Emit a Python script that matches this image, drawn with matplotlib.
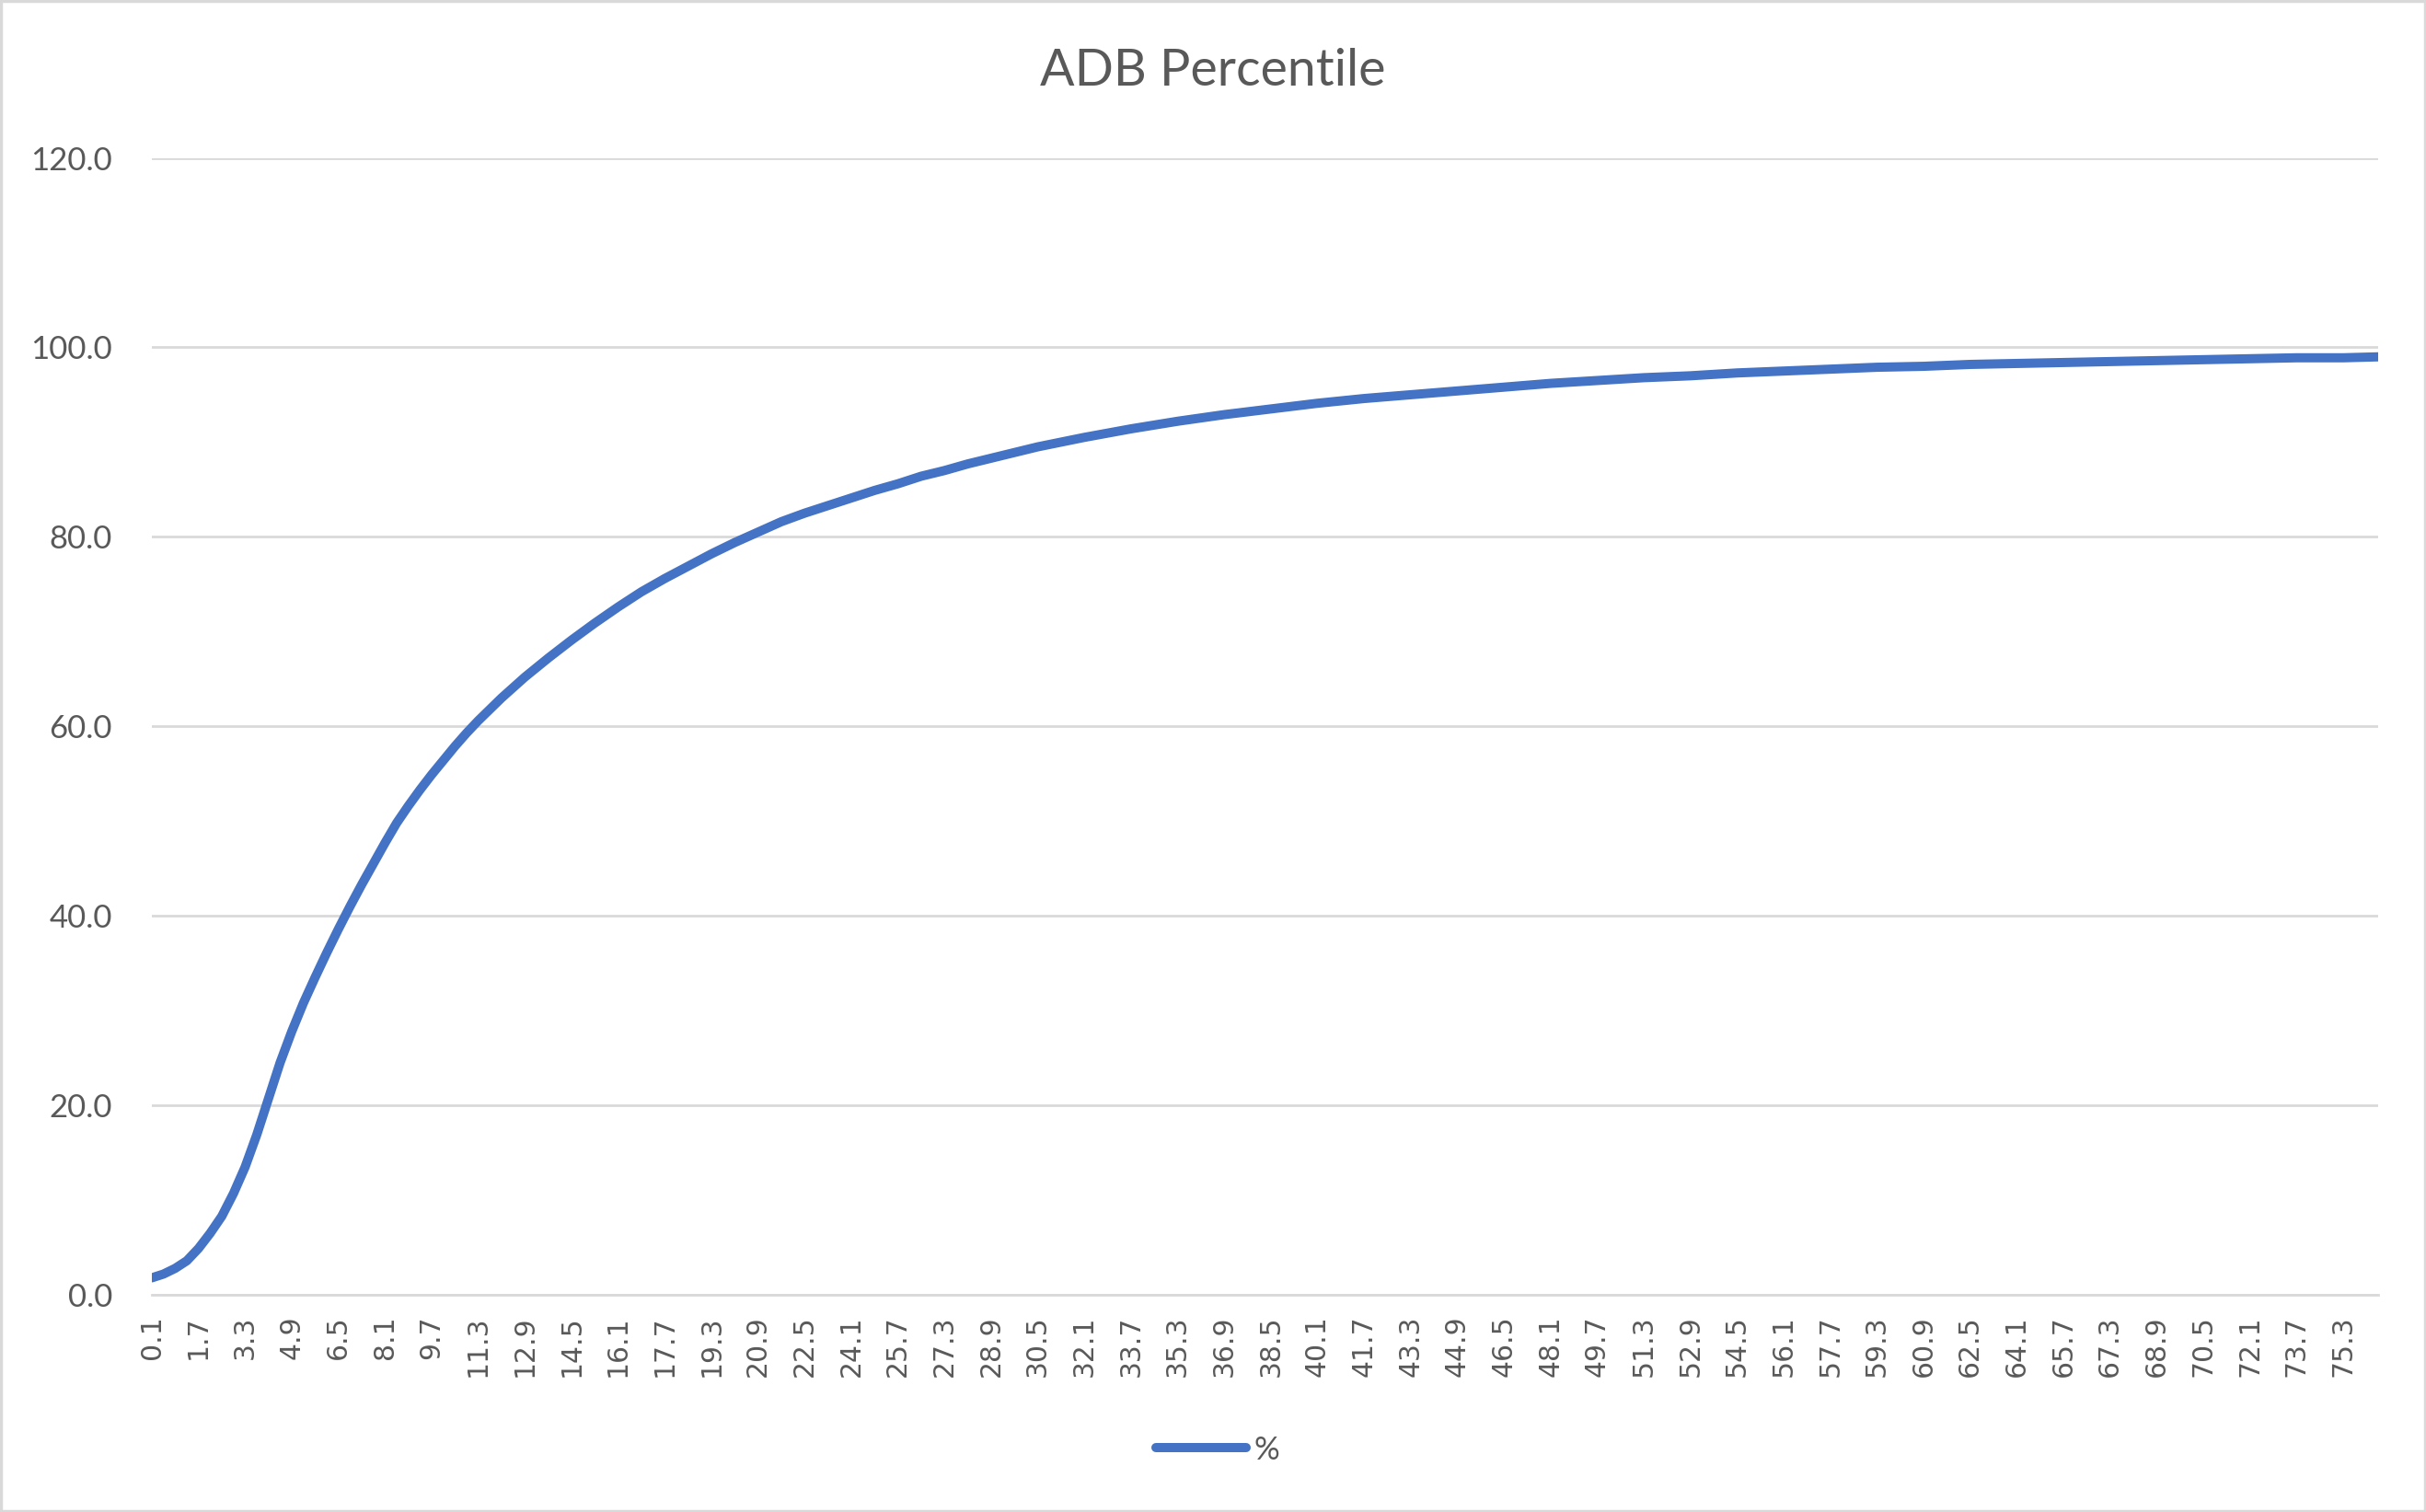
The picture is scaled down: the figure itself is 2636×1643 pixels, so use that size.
import matplotlib
matplotlib.use("Agg")
import matplotlib.pyplot as plt
import matplotlib.patches as patches
from matplotlib.ticker import FormatStrFormatter

# category axis: 0.1 .. 76.5 in steps of 0.1
categories = [f"{(k + 1) / 10:.1f}" for k in range(765)]

# readings taken off the chart at these categories
pct_x = [0.1, 0.5, 0.9, 1.3, 1.7, 2.1, 2.5, 2.9, 3.3, 3.7, 4.1, 4.5, 4.9, 5.3,
         5.7, 6.1, 6.5, 6.9, 7.3, 7.7, 8.1, 8.5, 8.9, 9.3, 9.7, 10.1, 10.5,
         10.9, 11.3, 11.7, 12.1,
         12.9, 13.7, 14.5, 15.3, 16.1, 16.9, 17.7, 18.5, 19.3, 20.1, 20.9,
         21.7, 22.5, 23.3, 24.1, 24.9, 25.7, 26.5, 27.3, 28.1, 28.9, 29.7,
         30.5, 31.3, 32.1,
         33.7, 35.3, 36.9, 38.5, 40.1, 41.7, 43.3, 44.9, 46.5, 48.1, 49.7,
         51.3, 52.9, 54.5, 56.1, 57.7, 59.3, 60.9, 62.5, 64.1, 65.7, 67.3,
         68.9, 70.5, 72.1, 73.7, 75.3, 76.5]
pct = [1.8, 2.2, 2.8, 3.6, 4.9, 6.5, 8.3, 10.7, 13.5, 16.9, 20.7, 24.5, 27.8,
       30.8, 33.5, 36.1, 38.6, 41.0, 43.3, 45.5, 47.7, 49.8, 51.6, 53.3, 54.9,
       56.4, 57.9, 59.3, 60.6, 61.8, 63.0,
       65.2, 67.2, 69.1, 70.9, 72.6, 74.2, 75.6, 76.9, 78.2, 79.4, 80.5, 81.6,
       82.5, 83.3, 84.1, 84.9, 85.6, 86.4, 87.0, 87.7, 88.3, 88.9, 89.5, 90.0,
       90.5,
       91.4, 92.2, 92.9, 93.5, 94.1, 94.6, 95.0, 95.4, 95.8, 96.2, 96.5, 96.8,
       97.0, 97.3, 97.5, 97.7, 97.9, 98.0, 98.2, 98.3, 98.4, 98.5, 98.6, 98.7,
       98.8, 98.9, 98.9, 99.0]

y_ticks = [0, 20, 40, 60, 80, 100, 120]

text_col = "#595959"
grid_col = "#D9D9D9"
line_col = "#4472C4"

fig = plt.figure(figsize=(26.36, 16.43), dpi=100)
ax = fig.add_axes([0.0626, 0.1436, 0.9177, 0.752])

pos = [categories.index(f"{x:.1f}") for x in pct_x]
ax.plot(pos, pct, color=line_col, lw=7.2, solid_capstyle="round",
        solid_joinstyle="round", label="%")

ax.set_xlim(0, len(categories) - 1)
ax.set_ylim(0, 120)
ax.set_yticks(y_ticks)
ax.yaxis.set_major_formatter(FormatStrFormatter("%.1f"))
ax.set_xticks(range(0, len(categories), 16))
ax.set_xticklabels(categories[::16], rotation=90, family="DejaVu Sans",
                   fontsize=21.5, color=text_col)
for lab in ax.get_yticklabels():
    lab.set_family("Lato")
    lab.set_fontsize(25)
    lab.set_color(text_col)

ax.tick_params(axis="both", length=0)
ax.tick_params(axis="x", pad=16)
ax.tick_params(axis="y", pad=31)
ax.grid(axis="y", color=grid_col, lw=2)
ax.set_axisbelow(True)
for s in ["top", "right", "left"]:
    ax.spines[s].set_visible(False)
ax.spines["bottom"].set_color(grid_col)
ax.spines["bottom"].set_linewidth(2)

fig.text(0.5, 0.953, "ADB Percentile", ha="center", va="center",
         family="Lato", fontsize=40, color=text_col)

fig.legend(loc="center", bbox_to_anchor=(0.502, 0.041), frameon=False,
           prop={"family": "Lato", "size": 25}, labelcolor=text_col,
           handlelength=2.8, handletextpad=0.25)

fig.patches.append(patches.Rectangle((0.0005, 0.0008), 0.999, 0.9984,
                                     transform=fig.transFigure, fill=False,
                                     edgecolor=grid_col, lw=2.5))

fig.savefig("out.png", dpi=100, facecolor="white")
